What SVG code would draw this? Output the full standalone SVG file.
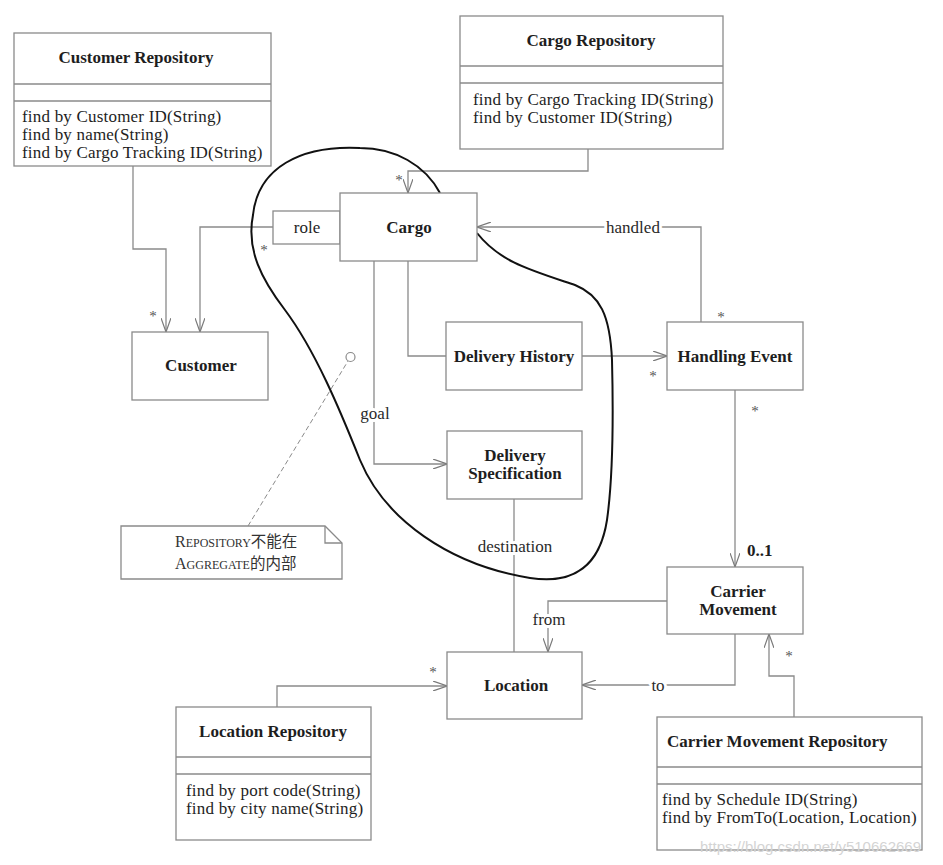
<svg xmlns="http://www.w3.org/2000/svg" width="943" height="865" viewBox="0 0 943 865">
<defs>
<marker id="open" viewBox="0 0 14 10" refX="14" refY="5" markerWidth="14" markerHeight="10" markerUnits="userSpaceOnUse" orient="auto">
<path d="M0,0 L14,5 L0,10" fill="none" stroke="#7a7a7a" stroke-width="1.2"/>
</marker>
</defs>
<style>
.box{fill:#fff;stroke:#8a8a8a;stroke-width:1.3}
.conn{fill:none;stroke:#8a8a8a;stroke-width:1.3}
.arr{marker-end:url(#open)}
.t{font-family:"Liberation Serif","Times New Roman",serif;font-size:17px;fill:#1e1e1e}
.op{letter-spacing:0.2px}
.b{font-weight:bold}
.m{text-anchor:middle}
.lbl{font-family:"Liberation Serif","Times New Roman",serif;font-size:17px;fill:#2a2a2a;text-anchor:middle;stroke:#fff;stroke-width:6;paint-order:stroke;stroke-linejoin:round}
.star{font-family:"Liberation Serif",serif;font-size:15px;fill:#555;text-anchor:middle}
.note{font-family:"Liberation Serif","Noto Sans CJK SC",serif;fill:#333;font-size:16px}
.sc{font-size:12px}
.cjk{font-family:"Noto Sans CJK SC",sans-serif;font-size:15.5px}
</style>
<rect width="943" height="865" fill="#fff"/>
<g id="connectors">
<path class="conn arr" d="M133,166 V249 H166 V332"/>
<path class="conn arr" d="M273,227 H200 V332"/>
<path class="conn arr" d="M588,149 V171 H408 V193"/>
<path class="conn" d="M408,261 V356 H446"/>
<path class="conn arr" d="M582,356 H667"/>
<path class="conn arr" d="M701,322 V227 H477"/>
<path class="conn arr" d="M374,261 V464 H447"/>
<path class="conn" d="M514,499 V652"/>
<path class="conn arr" d="M735,390 V567"/>
<path class="conn arr" d="M667,601 H548 V652"/>
<path class="conn arr" d="M735,634 V685 H582"/>
<path class="conn arr" d="M794,717 V676 H769 V634"/>
<path class="conn arr" d="M277,707 V686 H447"/>
<line x1="248" y1="526" x2="348" y2="361" stroke="#8a8a8a" stroke-width="1" stroke-dasharray="5,3"/>
<circle cx="350.5" cy="357" r="4.5" fill="#fff" stroke="#8a8a8a" stroke-width="1.2"/>
<text class="lbl" x="633" y="233">handled</text>
<text class="lbl" x="375" y="419">goal</text>
<text class="lbl" x="515" y="552">destination</text>
<text class="lbl" x="549" y="625">from</text>
<text class="lbl" x="658" y="691">to</text>
<text class="star" x="153" y="321">*</text>
<text class="star" x="264" y="255">*</text>
<text class="star" x="399" y="185">*</text>
<text class="star" x="721" y="322">*</text>
<text class="star" x="653" y="381">*</text>
<text class="star" x="755" y="416">*</text>
<text class="star" x="433" y="677">*</text>
<text class="star" x="789" y="661">*</text>
<text class="t b" x="747" y="556">0..1</text>
</g>
<path id="aggregate-boundary" d="M440,193 C425,165 395,148 360,148 C300,145 258,168 253,215 C246,250 262,280 285,310 C315,350 340,410 360,460 C385,520 450,565 530,578 C575,585 600,565 607,520 C614,470 613,400 612,360 C610,315 600,295 575,285 C530,270 500,262 477,233" fill="none" stroke="#111" stroke-width="2"/>
<g id="customer-repository">
<rect class="box" x="14" y="33" width="257" height="133"/>
<line class="conn" x1="14" y1="84" x2="271" y2="84"/>
<line class="conn" x1="14" y1="101" x2="271" y2="101"/>
<text class="t b m" x="136" y="63">Customer Repository</text>
<text class="t op" x="22" y="122">find by Customer ID(String)</text>
<text class="t op" x="22" y="140">find by name(String)</text>
<text class="t op" x="22" y="158">find by Cargo Tracking ID(String)</text>
</g>
<g id="cargo-repository">
<rect class="box" x="460" y="16" width="263" height="133"/>
<line class="conn" x1="460" y1="66" x2="723" y2="66"/>
<line class="conn" x1="460" y1="83" x2="723" y2="83"/>
<text class="t b m" x="591" y="46">Cargo Repository</text>
<text class="t op" x="473" y="105">find by Cargo Tracking ID(String)</text>
<text class="t op" x="473" y="123">find by Customer ID(String)</text>
</g>
<g id="role">
<rect class="box" x="273" y="211" width="67" height="33"/>
<text class="t m" x="307" y="233">role</text>
</g>
<g id="cargo">
<rect class="box" x="340" y="193" width="137" height="68"/>
<text class="t b m" x="409" y="233">Cargo</text>
</g>
<g id="customer">
<rect class="box" x="132" y="332" width="136" height="68"/>
<text class="t b m" x="201" y="371">Customer</text>
</g>
<g id="delivery-history">
<rect class="box" x="446" y="322" width="136" height="68"/>
<text class="t b m" x="514" y="362">Delivery History</text>
</g>
<g id="handling-event">
<rect class="box" x="667" y="322" width="136" height="68"/>
<text class="t b m" x="735" y="362">Handling Event</text>
</g>
<g id="delivery-specification">
<rect class="box" x="447" y="431" width="135" height="68"/>
<text class="t b m" x="515" y="461">Delivery</text>
<text class="t b m" x="515" y="479">Specification</text>
</g>
<g id="note">
<path class="box" d="M121,526 H325 L342,543 V579 H121 Z"/>
<path class="conn" d="M325,526 V543 H342"/>
<text class="note" x="175" y="547">R<tspan class="sc">EPOSITORY</tspan><tspan class="cjk">不能在</tspan></text>
<text class="note" x="175" y="569">A<tspan class="sc">GGREGATE</tspan><tspan class="cjk">的内部</tspan></text>
</g>
<g id="carrier-movement">
<rect class="box" x="667" y="567" width="136" height="67"/>
<text class="t b m" x="738" y="597">Carrier</text>
<text class="t b m" x="738" y="615">Movement</text>
</g>
<g id="location">
<rect class="box" x="447" y="652" width="135" height="67"/>
<text class="t b m" x="516" y="691">Location</text>
</g>
<g id="location-repository">
<rect class="box" x="176" y="707" width="195" height="133"/>
<line class="conn" x1="176" y1="757" x2="371" y2="757"/>
<line class="conn" x1="176" y1="774" x2="371" y2="774"/>
<text class="t b m" x="273" y="737">Location Repository</text>
<text class="t op" x="186" y="796">find by port code(String)</text>
<text class="t op" x="186" y="814">find by city name(String)</text>
</g>
<g id="carrier-movement-repository">
<rect class="box" x="657" y="717" width="265" height="133"/>
<line class="conn" x1="657" y1="767" x2="922" y2="767"/>
<line class="conn" x1="657" y1="784" x2="922" y2="784"/>
<text class="t b" x="667" y="747">Carrier Movement Repository</text>
<text class="t op" x="662" y="805">find by Schedule ID(String)</text>
<text class="t op" x="662" y="823">find by FromTo(Location, Location)</text>
</g>
<text x="700" y="852" style="font-family:'Liberation Sans',sans-serif;font-size:15px;fill:#d4d4d4">https://blog.csdn.net/y510662669</text>
</svg>
